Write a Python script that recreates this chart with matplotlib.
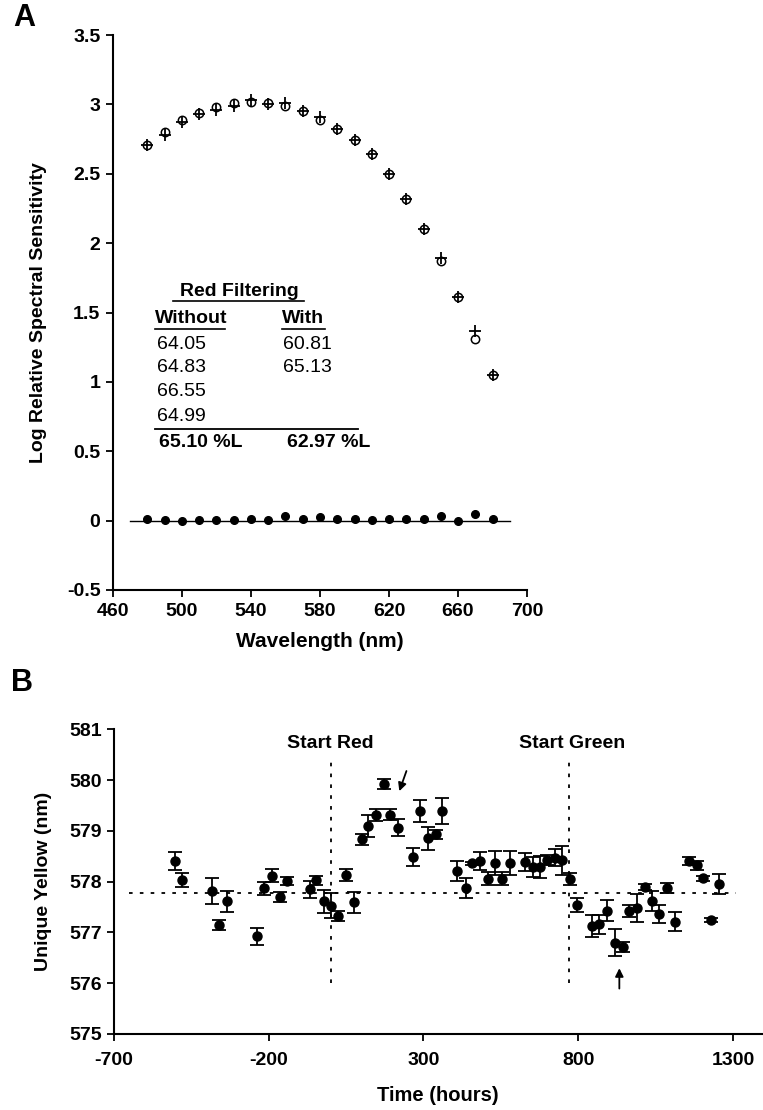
import matplotlib
matplotlib.use("Agg")
import matplotlib.pyplot as plt

plt.rcParams['font.family'] = ['Liberation Sans', 'DejaVu Sans']
plt.rcParams['axes.unicode_minus'] = False

# Panel A: spectral sensitivity with and without red filtering
wavelengths = [480, 490, 500, 510, 520, 530, 540, 550, 560, 570, 580,
               590, 600, 610, 620, 630, 640, 650, 660, 670, 680]
sens_without = [2.71, 2.80, 2.89, 2.94, 2.98, 3.01, 3.02, 3.01, 2.99, 2.95, 2.89,
                2.82, 2.74, 2.64, 2.50, 2.32, 2.10, 1.87, 1.61, 1.31, 1.05]
sens_with = [2.71, 2.78, 2.87, 2.93, 2.96, 2.99, 3.03, 3.00, 3.01, 2.95, 2.91,
             2.82, 2.74, 2.64, 2.50, 2.32, 2.10, 1.89, 1.61, 1.37, 1.05]
sens_diff = [0.010, 0.005, 0.000, 0.005, 0.005, 0.005, 0.010, 0.005, 0.030, 0.015, 0.025,
             0.010, 0.015, 0.005, 0.010, 0.012, 0.012, 0.036, 0.000, 0.048, 0.012]

table_without = ['64.05', '64.83', '66.55', '64.99']
table_with = ['60.81', '65.13']
mean_without = '65.10 %L'
mean_with = '62.97 %L'

# Panel B: unique yellow over time
hours = [-502, -481, -384, -360, -335, -237, -216, -190, -165, -142, -68, -46, -22, 2, 25,
         50, 75, 100, 121, 147, 173, 193, 219, 267, 290, 316, 340, 361,
         410, 436, 457, 482, 507, 530, 555, 579, 627, 653, 676, 698, 724, 748, 773,
         796, 845, 868, 893, 919, 945, 965, 991, 1015, 1037, 1061, 1087, 1113,
         1158, 1184, 1204, 1230, 1256]
unique_yellow = [578.41, 578.03, 577.82, 577.15, 577.61, 576.92, 577.87, 578.12, 577.69, 578.01,
                 577.85, 578.03, 577.61, 577.53, 577.33,
                 578.13, 577.59, 578.83, 579.09, 579.32, 579.92, 579.32, 579.06, 578.49, 579.39,
                 578.85, 578.93, 579.39,
                 578.21, 577.87, 578.36, 578.41, 578.06, 578.37, 578.06, 578.37, 578.39, 578.29,
                 578.29, 578.43, 578.47, 578.42, 578.06,
                 577.54, 577.13, 577.16, 577.43, 576.80, 576.72, 577.43, 577.48, 577.90, 577.62,
                 577.37, 577.88, 577.21,
                 578.41, 578.32, 578.07, 577.25, 577.96]
yellow_err = [0.18, 0.14, 0.26, 0.10, 0.20, 0.16, 0.13, 0.12, 0.10, 0.08,
              0.17, 0.09, 0.22, 0.24, 0.10,
              0.11, 0.20, 0.10, 0.22, 0.12, 0.10, 0.11, 0.17, 0.18, 0.22,
              0.23, 0.09, 0.25,
              0.20, 0.20, 0.03, 0.18, 0.13, 0.23, 0.13, 0.24, 0.18, 0.20,
              0.22, 0.10, 0.17, 0.28, 0.12,
              0.13, 0.22, 0.19, 0.21, 0.26, 0.10, 0.12, 0.27, 0.06, 0.19,
              0.18, 0.10, 0.19,
              0.08, 0.09, 0.05, 0.04, 0.20]
baseline_yellow = 577.77
start_red = 0
start_green = 770

W, H = 763, 1110
fig = plt.figure(figsize=(W / 100, H / 100), dpi=100)


def style_axes(ax):
    for side in ['top', 'right']:
        ax.spines[side].set_visible(False)
    for side in ['left', 'bottom']:
        ax.spines[side].set_linewidth(1.5)
    ax.tick_params(direction='out', length=5, width=1.3, labelsize=14, pad=4)
    for lab in ax.get_xticklabels() + ax.get_yticklabels():
        lab.set_fontweight('bold')


# ---- A ----
axA = fig.add_axes([113 / W, 1 - 590 / H, (527 - 113) / W, (590 - 35) / H])
axA.plot([470, 690], [0, 0], color='black', lw=1.0)
axA.plot(wavelengths, sens_without, 'o', ms=6, mfc='white', mec='black', mew=1.1)
axA.plot(wavelengths, sens_with, '+', ms=9, color='black', mew=1.3)
axA.plot(wavelengths, sens_diff, 'o', ms=5.5, color='black')
axA.set_xlim(460, 700)
axA.set_ylim(-0.5, 3.5)
axA.set_xticks([460, 500, 540, 580, 620, 660, 700])
axA.set_yticks([-0.5, 0, 0.5, 1, 1.5, 2, 2.5, 3, 3.5])
axA.set_yticklabels(['-0.5', '0', '0.5', '1', '1.5', '2', '2.5', '3', '3.5'])
style_axes(axA)
axA.set_xlabel('Wavelength (nm)', fontsize=15, fontweight='bold', labelpad=9)
axA.set_ylabel('Log Relative Spectral Sensitivity', fontsize=14, fontweight='bold', labelpad=14)

# inset table
axA.text(533, 1.65, 'Red Filtering', ha='center', va='center', fontsize=14, fontweight='bold')
axA.plot([495, 571], [1.58, 1.58], color='black', lw=1.2)
axA.text(484.3, 1.46, 'Without', ha='left', va='center', fontsize=14, fontweight='bold')
axA.plot([484.5, 525], [1.38, 1.38], color='black', lw=1.2)
axA.text(557.8, 1.46, 'With', ha='left', va='center', fontsize=14, fontweight='bold')
axA.plot([558, 583], [1.38, 1.38], color='black', lw=1.2)
rows_y = [1.27, 1.10, 0.93, 0.75]
for v, yy in zip(table_without, rows_y):
    axA.text(485.7, yy, v, ha='left', va='center', fontsize=14)
for v, yy in zip(table_with, rows_y):
    axA.text(558.7, yy, v, ha='left', va='center', fontsize=14)
axA.plot([484.3, 602.2], [0.66, 0.66], color='black', lw=1.3)
axA.text(486.8, 0.56, mean_without, ha='left', va='center', fontsize=14, fontweight='bold')
axA.text(560.7, 0.56, mean_with, ha='left', va='center', fontsize=14, fontweight='bold')

fig.text(24 / W, 1 - 18 / H, 'A', ha='center', va='center', fontsize=22, fontweight='bold')

# ---- B ----
axB = fig.add_axes([114 / W, 1 - 1034 / H, (762 - 114) / W, (1034 - 729.3) / H])
axB.plot([-650, 1310], [baseline_yellow, baseline_yellow], color='black', lw=1.3,
         linestyle=(0, (2, 4)))
for t in [start_red, start_green]:
    axB.plot([t, t], [576.0, 580.4], color='black', lw=1.3, linestyle=(0, (2, 4)))
axB.errorbar(hours, unique_yellow, yerr=yellow_err, fmt='o', ms=6.5, color='black',
             ecolor='black', elinewidth=1.3, capsize=5, capthick=1.3)
axB.text(start_red, 580.72, 'Start Red', ha='center', va='center', fontsize=14, fontweight='bold')
axB.text(start_green + 10, 580.72, 'Start Green', ha='center', va='center', fontsize=14,
         fontweight='bold')
axB.annotate('', xy=(219, 579.73), xytext=(248, 580.23),
             arrowprops=dict(arrowstyle='-|>', color='black', lw=1.3, mutation_scale=12))
axB.annotate('', xy=(933, 576.35), xytext=(933, 575.84),
             arrowprops=dict(arrowstyle='-|>', color='black', lw=1.3, mutation_scale=12))
axB.set_xlim(-700, 1394)
axB.set_ylim(575, 581)
axB.set_xticks([-700, -200, 300, 800, 1300])
axB.set_yticks([575, 576, 577, 578, 579, 580, 581])
style_axes(axB)
axB.tick_params(axis='x', pad=8)
axB.set_xlabel('Time (hours)', fontsize=14.5, fontweight='bold', labelpad=12)
axB.set_ylabel('Unique Yellow (nm)', fontsize=14, fontweight='bold', labelpad=12)

fig.text(22 / W, 1 - 683 / H, 'B', ha='center', va='center', fontsize=22, fontweight='bold')

fig.savefig('out.png', dpi=100)
